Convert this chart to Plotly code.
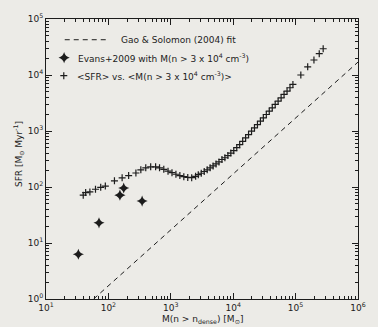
import plotly.graph_objects as go

# ---- data ----
evans_mass = [33, 70.7, 153, 176, 347]
evans_sfr = [6.3, 22.9, 71.5, 96, 56]

sfr_mass = [39.5, 43.2, 50.5, 62.1, 75.3, 89.3, 125, 166, 211, 276,
            331, 397, 476, 571, 660, 772, 903, 1045, 1208, 1397,
            1617, 1870, 2162, 2500, 2758, 3076, 3433, 3827, 4266, 4762,
            5309, 5918, 6607, 7362, 8222, 9162, 10210, 11400, 12700, 14190,
            15810, 17620, 19680, 21930, 24490, 27290, 30410, 33960, 37840, 42270,
            47100, 52480, 58610, 65310, 72940, 81280, 90570,
            121300, 156300, 196800, 239300, 276700]
sfr_vals = [71.5, 79.4, 81.7, 91.1, 98.8, 104, 129, 146, 160, 178,
            203, 220, 229, 229, 220, 207, 192, 180, 169, 160,
            153, 148, 147, 155, 166, 176, 189, 203, 220, 238,
            258, 280, 310, 333, 364, 403, 446, 504, 571, 654,
            754, 865, 991, 1138, 1305, 1497, 1718, 1971, 2260, 2594,
            2977, 3413, 3917, 4495, 5155, 5915, 6787,
            10000, 13990, 18540, 24040, 29400]

fit_mass = [58, 1.0e6]
fit_sfr = [1.0, 17000]

x_tickvals = [1e1, 1e2, 1e3, 1e4, 1e5, 1e6]
x_ticktext = ["10<sup>1</sup>", "10<sup>2</sup>", "10<sup>3</sup>", "10<sup>4</sup>", "10<sup>5</sup>", "10<sup>6</sup>"]
y_tickvals = [1e0, 1e1, 1e2, 1e3, 1e4, 1e5]
y_ticktext = ["10<sup>0</sup>", "10<sup>1</sup>", "10<sup>2</sup>", "10<sup>3</sup>", "10<sup>4</sup>", "10<sup>5</sup>"]

legend_labels = ["Gao &amp; Solomon (2004) fit",
                 "Evans+2009 with M(n &gt; 3 x 10<sup>4</sup> cm<sup>-3</sup>)",
                 "&lt;SFR&gt; vs. &lt;M(n &gt; 3 x 10<sup>4</sup> cm<sup>-3</sup>)&gt;"]

INK = "#1c1c1c"
BG = "#ECEBE7"
FONT = "DejaVu Sans"
DASH = "5px,4px"
PLUS = dict(symbol="cross-thin", size=5, color=INK, line=dict(color=INK, width=1.2))
STAR = dict(symbol="star-diamond", size=8, color=INK, line=dict(width=0))

fig = go.Figure()

fig.add_trace(go.Scatter(x=fit_mass, y=fit_sfr, mode="lines",
                         line=dict(color=INK, width=1, dash=DASH),
                         showlegend=False, hoverinfo="skip"))
fig.add_trace(go.Scatter(x=sfr_mass, y=sfr_vals, mode="markers", marker=PLUS,
                         showlegend=False))
fig.add_trace(go.Scatter(x=evans_mass, y=evans_sfr, mode="markers", marker=STAR,
                         showlegend=False))

# legend symbols on an overlay axis in [0,1]
fig.add_trace(go.Scatter(x=[0.058], y=[0.862], xaxis="x2", yaxis="y2", mode="markers",
                         marker=STAR, showlegend=False, hoverinfo="skip"))
fig.add_trace(go.Scatter(x=[0.057], y=[0.7975], xaxis="x2", yaxis="y2", mode="markers",
                         marker=PLUS, showlegend=False, hoverinfo="skip"))

minor_vals = [k * 10 ** d for d in range(-1, 7) for k in range(2, 10)]

axis_common = dict(type="log", showline=True, linecolor=INK, linewidth=1,
                   mirror="allticks", ticks="inside", ticklen=6, tickwidth=1,
                   tickcolor=INK, showgrid=False, zeroline=False,
                   tickfont=dict(family=FONT, size=9, color=INK),
                   minor=dict(tickmode="array", tickvals=minor_vals, ticks="inside",
                              ticklen=3, tickwidth=1, tickcolor=INK, showgrid=False))

fig.update_layout(
    width=378, height=327,
    margin=dict(l=46, r=16, t=14, b=28),
    paper_bgcolor=BG, plot_bgcolor=BG,
    font=dict(family=FONT, size=9, color=INK),
    showlegend=False,
    xaxis=dict(range=[1, 6], tickmode="array", tickvals=x_tickvals, ticktext=x_ticktext,
               **axis_common),
    yaxis=dict(range=[0, 5], tickmode="array", tickvals=y_tickvals, ticktext=y_ticktext,
               **axis_common),
    xaxis2=dict(overlaying="x", range=[0, 1], visible=False, fixedrange=True),
    yaxis2=dict(overlaying="y", range=[0, 1], visible=False, fixedrange=True),
    shapes=[dict(type="line", xref="paper", yref="paper", x0=0.060, x1=0.196,
                 y0=0.926, y1=0.926, line=dict(color=INK, width=1, dash=DASH))],
    annotations=[
        dict(text=legend_labels[0], x=0.234, y=0.926, xref="paper", yref="paper",
             xanchor="left", yanchor="middle", showarrow=False, font=dict(size=9)),
        dict(text=legend_labels[1], x=0.095, y=0.862, xref="paper", yref="paper",
             xanchor="left", yanchor="middle", showarrow=False, font=dict(size=9)),
        dict(text=legend_labels[2], x=0.092, y=0.7975, xref="paper", yref="paper",
             xanchor="left", yanchor="middle", showarrow=False, font=dict(size=9)),
        dict(text="M(n &gt; n<sub>dense</sub>) [M<sub>\u2299</sub>]", x=0.5, y=-0.072,
             xref="paper", yref="paper", xanchor="center", yanchor="middle",
             showarrow=False, font=dict(size=9)),
        dict(text="SFR [M<sub>\u2299</sub> Myr<sup>-1</sup>]", x=-0.088, y=0.516,
             xref="paper", yref="paper", xanchor="center", yanchor="middle",
             textangle=-90, showarrow=False, font=dict(size=9)),
    ],
)

fig.write_html("out.html",
               config={"displayModeBar": False},
               post_script="document.body.style.margin='0';"
                           "document.body.style.background='#ECEBE7';"
                           "document.body.style.overflow='hidden';")
